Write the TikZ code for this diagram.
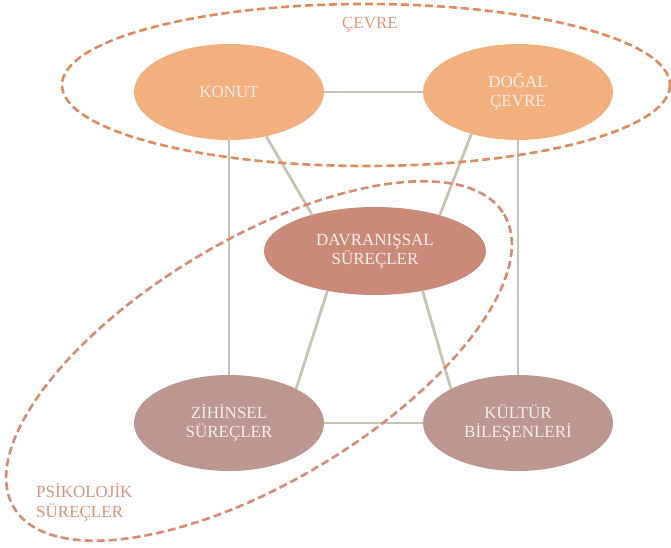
\documentclass[tikz,border=0pt]{standalone}
\usepackage{fontspec}
\setmainfont{Liberation Serif}
\usetikzlibrary{shapes.geometric}
\definecolor{envfill}{HTML}{F2B07F}
\definecolor{behfill}{HTML}{C98A7A}
\definecolor{psyfill}{HTML}{BC9691}
\definecolor{linkcol}{HTML}{C9C3B3}
\definecolor{envdash}{HTML}{E08A5E}
\definecolor{psydash}{HTML}{D98A73}
\definecolor{envlabel}{HTML}{E5977A}
\definecolor{psylabel}{HTML}{D9917E}
\definecolor{bubtext}{HTML}{F6EDE8}
\tikzset{
  bubble/.style={ellipse, inner sep=0pt, align=center, text=bubtext,
    font=\fontsize{17}{19}\selectfont},
  envbubble/.style={bubble, fill=envfill, minimum width=190pt, minimum height=96pt},
  behbubble/.style={bubble, fill=behfill, minimum width=222pt, minimum height=88pt},
  psybubble/.style={bubble, fill=psyfill, minimum width=190pt, minimum height=96pt},
  link/.style={draw=linkcol, line width=2.8pt},
  groupline/.style={line width=2.6pt, dash pattern=on 8pt off 4pt},
  grouplabel/.style={font=\fontsize{17}{20}\selectfont, align=left, inner sep=0pt}
}
\begin{document}
\begin{tikzpicture}[x=1pt,y=-1pt]
\useasboundingbox (0,0) rectangle (671,548);
\node[envbubble] (konut) at (229,92) {KONUT};
\node[envbubble] (dogal) at (518,92) {DOĞAL\\ÇEVRE};
\node[behbubble] (davr) at (375,251) {DAVRANIŞSAL\\SÜREÇLER};
\node[psybubble] (zihin) at (229,423) {ZİHİNSEL\\SÜREÇLER};
\node[psybubble] (kultur) at (518,423) {KÜLTÜR\\BİLEŞENLERİ};
\draw[link] (konut) -- (dogal);
\draw[link] (zihin) -- (kultur);
\draw[link] (konut) -- (zihin);
\draw[link] (dogal) -- (kultur);
\draw[link] (konut.-50) -- (davr.150);
\draw[link] (dogal.-138) -- (davr.29);
\draw[link] (davr.-140) -- (zihin.27);
\draw[link] (davr.-40) -- (kultur.153);
% groups
\draw[envdash, groupline] (366,85) ellipse [x radius=304, y radius=81];
\draw[psydash, groupline, shift={(259,361)}, rotate=30.9] (0,0) ellipse [x radius=285.6, y radius=121];
\node[grouplabel, text=envlabel] (cevre) at (370,25) {ÇEVRE};
\node[grouplabel, text=psylabel, anchor=west] (psik) at (36,502) {PSİKOLOJİK\\SÜREÇLER};
\end{tikzpicture}
\end{document}
